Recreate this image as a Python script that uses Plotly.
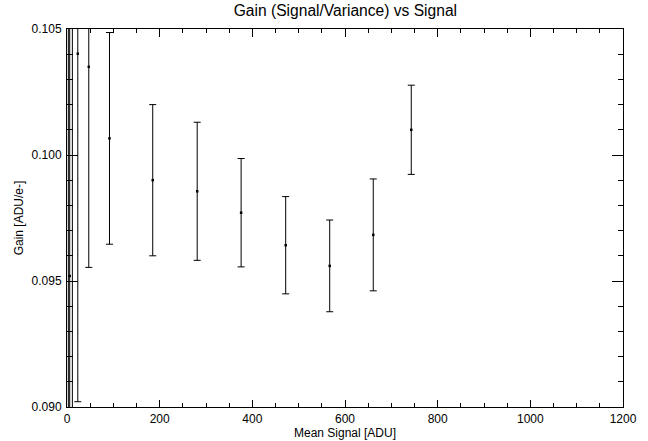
import plotly.graph_objects as go

# Data
mean_signal = [2.9, 5.8, 11.6, 23.3, 47.0, 91.7, 185.0, 281.0, 375.8, 472.0, 567.0, 661.0, 743.0]
gain = [0.1120, 0.0952, 0.0850, 0.10402, 0.1035, 0.10066, 0.09900, 0.09856, 0.09771, 0.09642, 0.09560, 0.09683, 0.10100]
gain_err = [0.0400, 0.0300, 0.0400, 0.01381, 0.00796, 0.00420, 0.00300, 0.00274, 0.00215, 0.00193, 0.00182, 0.00222, 0.00177]

x_ticks = [0, 200, 400, 600, 800, 1000, 1200]
y_ticks = [0.090, 0.095, 0.100, 0.105]
y_tick_text = ["0.090", "0.095", "0.100", "0.105"]

FONT = "Liberation Sans, Arial, Helvetica, sans-serif"

fig = go.Figure()
fig.add_trace(go.Scatter(
    x=mean_signal, y=gain, mode="markers",
    marker=dict(color="black", size=2.5, symbol="square"),
    error_y=dict(type="data", array=gain_err, visible=True,
                 color="black", thickness=1, width=3.5),
    showlegend=False,
))

fig.update_layout(
    width=648, height=441,
    margin=dict(l=67, r=25, t=29, b=34, autoexpand=False),
    paper_bgcolor="white", plot_bgcolor="white",
    font=dict(family=FONT, size=12, color="black"),
    title=dict(text="Gain (Signal/Variance) vs Signal", x=0.533, xanchor="center",
               y=1 - 11 / 441, yanchor="middle", yref="container",
               font=dict(family=FONT, size=15.6, color="black")),
)

fig.update_xaxes(
    range=[0, 1200], tickvals=x_ticks, ticks="inside", ticklen=7.5, tickwidth=1,
    tickcolor="black", showline=True, linecolor="black", linewidth=1,
    mirror="ticks", showgrid=False, zeroline=False, automargin=False,
    minor=dict(ticks="inside", ticklen=4, dtick=50, tickcolor="black", showgrid=False),
    tickfont=dict(size=12), ticklabelstandoff=1,
    title=dict(text="Mean Signal [ADU]", font=dict(size=12), standoff=0),
)
fig.update_yaxes(
    range=[0.090, 0.105], tickvals=y_ticks, ticktext=y_tick_text, ticks="inside",
    ticklen=11, tickwidth=1, tickcolor="black", showline=True, linecolor="black",
    linewidth=1, mirror="ticks", showgrid=False, zeroline=False, automargin=False,
    minor=dict(ticks="inside", ticklen=5.5, dtick=0.001, tickcolor="black", showgrid=False),
    tickfont=dict(size=12), ticklabelstandoff=2,
    title=dict(text="Gain [ADU/e-]", font=dict(size=12), standoff=5),
)

fig.write_html("out.html", config={"displayModeBar": False},
               post_script="document.body.style.margin='0';")
